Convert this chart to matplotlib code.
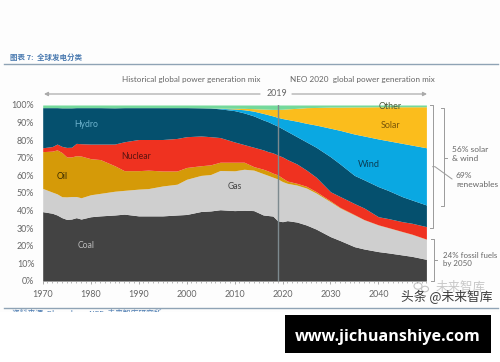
#!/usr/bin/env python3
"""Global power generation mix, history and NEO 2020 outlook, as cumulative bands."""
import matplotlib
matplotlib.use("Agg")
import matplotlib.pyplot as plt
from matplotlib.patches import Ellipse

W, H = 500, 362
BG = "#fdfdfd"
TXT = "#666666"
RULE = "#8fa3b5"
BRK = "#9a9a9a"

years = [1970, 1972, 1973, 1974, 1975, 1976, 1977, 1978, 1980, 1982, 1985, 1987, 1990,
         1992, 1995, 1998, 2000, 2003, 2005, 2007, 2010, 2012, 2014, 2016, 2017, 2018,
         2019, 2020, 2021, 2023, 2025, 2027, 2030, 2032, 2035, 2037, 2040, 2042, 2045,
         2047, 2050]
# top edge of each band in percent
coal_top = [39.4, 38.5, 37.5, 36.0, 35.0, 35.2, 36.0, 35.2, 36.5, 37.0, 37.5, 38.0, 37.0,
            37.0, 37.0, 37.5, 37.8, 39.5, 39.8, 40.5, 40.0, 40.2, 40.0, 37.5, 37.2, 36.9,
            34.2, 33.7, 34.3, 33.5, 31.8, 29.5, 25.2, 23.0, 19.5, 18.2, 16.7, 16.0, 14.8,
            14.0, 12.3]
gas_top = [52.6, 50.5, 49.5, 47.9, 47.8, 48.0, 48.0, 47.3, 49.0, 49.8, 51.0, 51.5, 52.2,
           52.5, 54.0, 55.0, 57.8, 60.0, 60.5, 62.8, 62.6, 63.5, 63.0, 61.0, 60.0, 59.0,
           58.0, 56.5, 55.5, 54.5, 52.8, 50.0, 45.0, 41.5, 37.5, 34.8, 31.8, 30.3, 28.0,
           26.5, 23.7]
oil_top = [73.5, 73.8, 74.5, 73.0, 70.5, 70.5, 71.2, 71.0, 69.5, 69.0, 65.5, 62.7, 62.7,
           63.0, 62.5, 62.5, 64.5, 65.5, 66.0, 67.5, 67.5, 67.5, 65.0, 63.5, 62.5, 61.3,
           60.3, 58.5, 56.8, 55.5, 53.8, 50.8, 45.5, 41.8, 37.7, 34.9, 31.9, 30.4, 28.1,
           26.6, 23.8]
nuclear_top = [75.7, 76.4, 77.8, 76.5, 75.9, 76.0, 78.2, 78.0, 77.8, 77.8, 77.8, 79.1, 80.4,
               80.4, 80.4, 81.0, 82.0, 82.4, 82.0, 81.5, 79.0, 77.5, 76.0, 74.5, 73.5, 72.8,
               71.6, 70.5, 69.0, 66.5, 63.0, 59.0, 50.7, 48.0, 44.0, 41.5, 36.5, 35.5, 33.7,
               32.8, 30.9]
hydro_top = [98.5, 98.5, 98.5, 98.4, 98.4, 98.4, 98.5, 98.5, 98.5, 98.5, 98.4, 98.5, 98.5,
             98.5, 98.5, 98.5, 98.5, 98.4, 98.3, 97.8, 96.8, 95.5, 93.8, 91.5, 90.5, 89.2,
             88.0, 86.5, 85.0, 82.0, 79.0, 76.0, 70.6, 66.5, 60.0, 57.5, 53.6, 51.5, 47.9,
             46.0, 43.2]
wind_top = [98.5, 98.5, 98.5, 98.4, 98.4, 98.4, 98.5, 98.5, 98.5, 98.5, 98.4, 98.5, 98.5,
            98.5, 98.5, 98.5, 98.5, 98.4, 98.3, 98.1, 97.7, 97.3, 96.5, 95.2, 94.5, 93.8,
            93.0, 92.3, 91.8, 90.8, 89.6, 88.6, 86.8, 85.6, 83.5, 82.4, 80.7, 79.7, 78.2,
            77.2, 75.7]
solar_top = [98.5, 98.5, 98.5, 98.4, 98.4, 98.4, 98.5, 98.5, 98.5, 98.5, 98.4, 98.5, 98.5,
             98.5, 98.5, 98.5, 98.5, 98.4, 98.3, 98.2, 98.1, 98.1, 97.9, 97.7, 97.6, 97.5,
             97.5, 97.6, 97.8, 98.1, 98.5, 98.6, 98.8, 98.8, 98.9, 98.9, 99.0, 99.0, 99.0,
             99.0, 99.0]
other_top = [100] * len(years)

band_names = ["Coal", "Gas", "Oil", "Nuclear", "Hydro", "Wind", "Solar", "Other"]
band_tops = [coal_top, gas_top, oil_top, nuclear_top, hydro_top, wind_top, solar_top, other_top]
band_colors = ["#434343", "#cfcfcf", "#d59a08", "#ef3220", "#05506e", "#0aa8e2", "#fbbd1c", "#74d99b"]

xticks = list(range(1970, 2050, 10))
yticks = list(range(0, 101, 10))

plt.rcParams.update({"font.family": ["Lato", "DejaVu Sans"], "font.size": 6.4})

fig = plt.figure(figsize=(W / 100, H / 100), dpi=100, facecolor=BG)

# pixel overlay for the page furniture
page = fig.add_axes([0, 0, 1, 1], zorder=0)
page.set_xlim(0, W)
page.set_ylim(H, 0)
page.axis("off")

ax = fig.add_axes([42.7 / W, 1 - 281 / H, 383.7 / W, 176 / H], zorder=1)
ax.set_facecolor("none")
lower = [0] * len(years)
for name, top, col in zip(band_names, band_tops, band_colors):
    ax.fill_between(years, lower, top, color=col, lw=0)
    lower = top
ax.axvline(2019, color="#7d8a8f", lw=1, zorder=3)
ax.set_xlim(1970, 2050)
ax.set_ylim(0, 100)
ax.set_xticks(xticks)
ax.set_xticks(range(1970, 2051), minor=True)
ax.set_yticks(yticks)
ax.set_yticklabels([f"{v}%" for v in yticks])
ax.tick_params(axis="x", which="major", length=2, width=0.6, color="#999999", pad=4.5,
               labelcolor=TXT, labelsize=6.4)
ax.tick_params(axis="x", which="minor", length=1.5, width=0.5, color="#999999")
ax.tick_params(axis="y", length=0, pad=6, labelcolor=TXT, labelsize=6.4)
for s in ("top", "right", "left"):
    ax.spines[s].set_visible(False)
ax.spines["bottom"].set_color("#999999")
ax.spines["bottom"].set_linewidth(0.6)

# band labels
ax.text(1979, 20, "Coal", color="#bdbdbd", ha="center", va="center", fontsize=6.2)
ax.text(2010, 53.5, "Gas", color="#444444", ha="center", va="center", fontsize=6.2)
ax.text(1974, 59.5, "Oil", color="#3c2c00", ha="center", va="center", fontsize=6.2)
ax.text(1989.5, 70.5, "Nuclear", color="#5a1410", ha="center", va="center", fontsize=6.2)
ax.text(1979, 89, "Hydro", color="#6fb4cf", ha="center", va="center", fontsize=6.2)
ax.text(2038, 66, "Wind", color="#0b3d55", ha="center", va="center", fontsize=6.6)
ax.text(2042.5, 88.3, "Solar", color="#7a5608", ha="center", va="center", fontsize=6.4)
ax.text(2042.5, 99.3, "Other", color="#4d5a3a", ha="center", va="center", fontsize=6.4)

# header
cjk = ["Noto Sans CJK SC", "DejaVu Sans"]
page.text(10, 57, "图表 7:  全球发电分类", color="#4a7ab0", fontsize=5.4, style="italic",
          weight="bold", ha="left", va="center", family=cjk)
page.plot([4, 498], [64, 64], color=RULE, lw=1.0)
page.text(191, 79.5, "Historical global power generation mix", color=TXT, fontsize=5.85,
          ha="center", va="center")
page.text(362.5, 79.5, "NEO 2020  global power generation mix", color=TXT, fontsize=5.85,
          ha="center", va="center")

# 2019 arrows
arrow = dict(arrowstyle="-|>,head_length=0.35,head_width=0.18", color="#aaaaaa", lw=0.9,
             shrinkA=0, shrinkB=0)
page.annotate("", xy=(44, 94), xytext=(260, 94), arrowprops=arrow)
page.annotate("", xy=(427, 94), xytext=(292, 94), arrowprops=arrow)
page.text(277, 94, "2019", color=TXT, fontsize=6.4, ha="center", va="center")

# brackets on the right
page.plot([430, 432.7, 432.7, 430], [105, 105, 227.5, 227.5], color=BRK, lw=0.7)
page.plot([432.7, 435, 452], [166.7, 166.7, 179], color=BRK, lw=0.7)
page.plot([441, 444, 444, 441], [108, 108, 206, 206], color=BRK, lw=0.7)
page.plot([444, 447], [157.7, 157.7], color=BRK, lw=0.7)
page.plot([431, 434, 434, 431], [238.5, 238.5, 281, 281], color=BRK, lw=0.7)
page.plot([434, 437], [260, 260], color=BRK, lw=0.7)
page.text(452, 154, "56% solar\n& wind", color=TXT, fontsize=6, ha="left", va="center",
          linespacing=1.25)
page.text(456, 180, "69%\nrenewables", color=TXT, fontsize=6, ha="left", va="center",
          linespacing=1.25)
page.text(443, 259.5, "24% fossil fuels\nby 2050", color=TXT, fontsize=5.7, ha="left", va="center",
          linespacing=1.2)

# footer: source line is cut off by the white strip under it
page.plot([4, 498], [308, 308], color=RULE, lw=1.0, zorder=3)
page.text(12, 313, "资料来源: Bloomberg NEF, 未来智库研究所", color="#4a7ab0", fontsize=5.6,
          ha="left", va="center", family=cjk, zorder=2)
page.fill_between([0, W], 311.5, H, color="white", lw=0, zorder=2.5)

# watermarks and the banner
page.add_patch(Ellipse((418, 286), 8, 6.5, fill=False, ec="#c4c4c4", lw=0.8))
page.add_patch(Ellipse((425, 289), 7, 5.5, fill=False, ec="#c4c4c4", lw=0.8))
page.text(436, 287, "未来智库", color="#c8c8c8", fontsize=9, ha="left", va="center", family=cjk)
page.text(401, 297.5, "头条 @未来智库", color="#3c3c3c", fontsize=9.2, ha="left", va="center",
          family=cjk, zorder=4)
page.fill_between([285, 491], 315, 352.7, color="black", lw=0, zorder=4)
page.text(388, 337, "www.jichuanshiye.com", color="white", fontsize=11.6, weight="bold",
          ha="center", va="center", family="Open Sans", zorder=5)

fig.savefig("out.png", dpi=100, facecolor=BG)
